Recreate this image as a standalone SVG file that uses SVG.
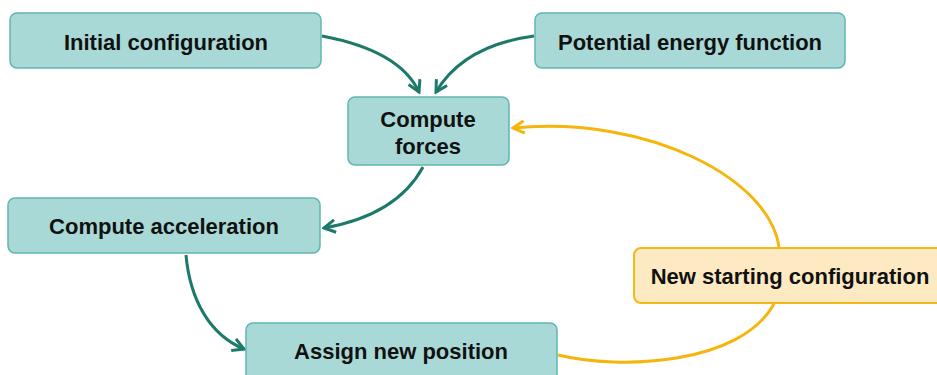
<svg xmlns="http://www.w3.org/2000/svg" width="937" height="375" viewBox="0 0 937 375">
<defs>
<style>
.n rect{fill:#a8d9d6;stroke:#62b5ae;stroke-width:1.5}
.y rect{fill:#fdeac2;stroke:#f4b916;stroke-width:2}
text{font-family:"Liberation Sans",Arial,sans-serif;font-weight:bold;font-size:22px;fill:#111;text-anchor:middle}
.c{fill:none;stroke:#1d7a6a;stroke-width:3}
.cy{fill:none;stroke:#f5b50d;stroke-width:3}
</style>
<marker id="a" viewBox="0 0 12 12" refX="10" refY="6" markerWidth="5" markerHeight="5" orient="auto" markerUnits="strokeWidth"><path d="M1,1 L10,6 L1,11" fill="none" stroke="#1d7a6a" stroke-width="2.4"/></marker>
<marker id="ay" viewBox="0 0 12 12" refX="10" refY="6" markerWidth="5" markerHeight="5" orient="auto" markerUnits="strokeWidth"><path d="M1,1 L10,6 L1,11" fill="none" stroke="#f5b50d" stroke-width="2.4"/></marker>
</defs>
<rect width="937" height="375" fill="#fff"/>
<g id="connectors">
<path class="c" d="M322,36 C370,45 405,62 419,92" marker-end="url(#a)"/>
<path class="c" d="M534,36 C490,42 455,60 436,92" marker-end="url(#a)"/>
<path class="c" d="M423,167 C405,200 370,220 324,228" marker-end="url(#a)"/>
<path class="c" d="M186,255 C190,300 210,335 244,349" marker-end="url(#a)"/>
<path class="cy" d="M558,355 C620,370 740,365 774,304"/>
<path class="cy" d="M779,247 C770,180 650,115 513,128" marker-end="url(#ay)"/>
</g>
<g id="n1" class="n"><rect x="10" y="13" width="311" height="55" rx="7"/><text x="166" y="50">Initial configuration</text></g>
<g id="n2" class="n"><rect x="535" y="13" width="310" height="55" rx="7"/><text x="690" y="50">Potential energy function</text></g>
<g id="n3" class="n"><rect x="348" y="97" width="161" height="68" rx="7"/><text x="428" y="127">Compute</text><text x="428" y="154">forces</text></g>
<g id="n4" class="n"><rect x="8" y="198" width="312" height="55" rx="7"/><text x="164" y="234">Compute acceleration</text></g>
<g id="n5" class="y"><rect x="634" y="248" width="312" height="55" rx="7"/><text x="790" y="284">New starting configuration</text></g>
<g id="n6" class="n"><rect x="246" y="323" width="311" height="60" rx="7"/><text x="401" y="359">Assign new position</text></g>
</svg>
